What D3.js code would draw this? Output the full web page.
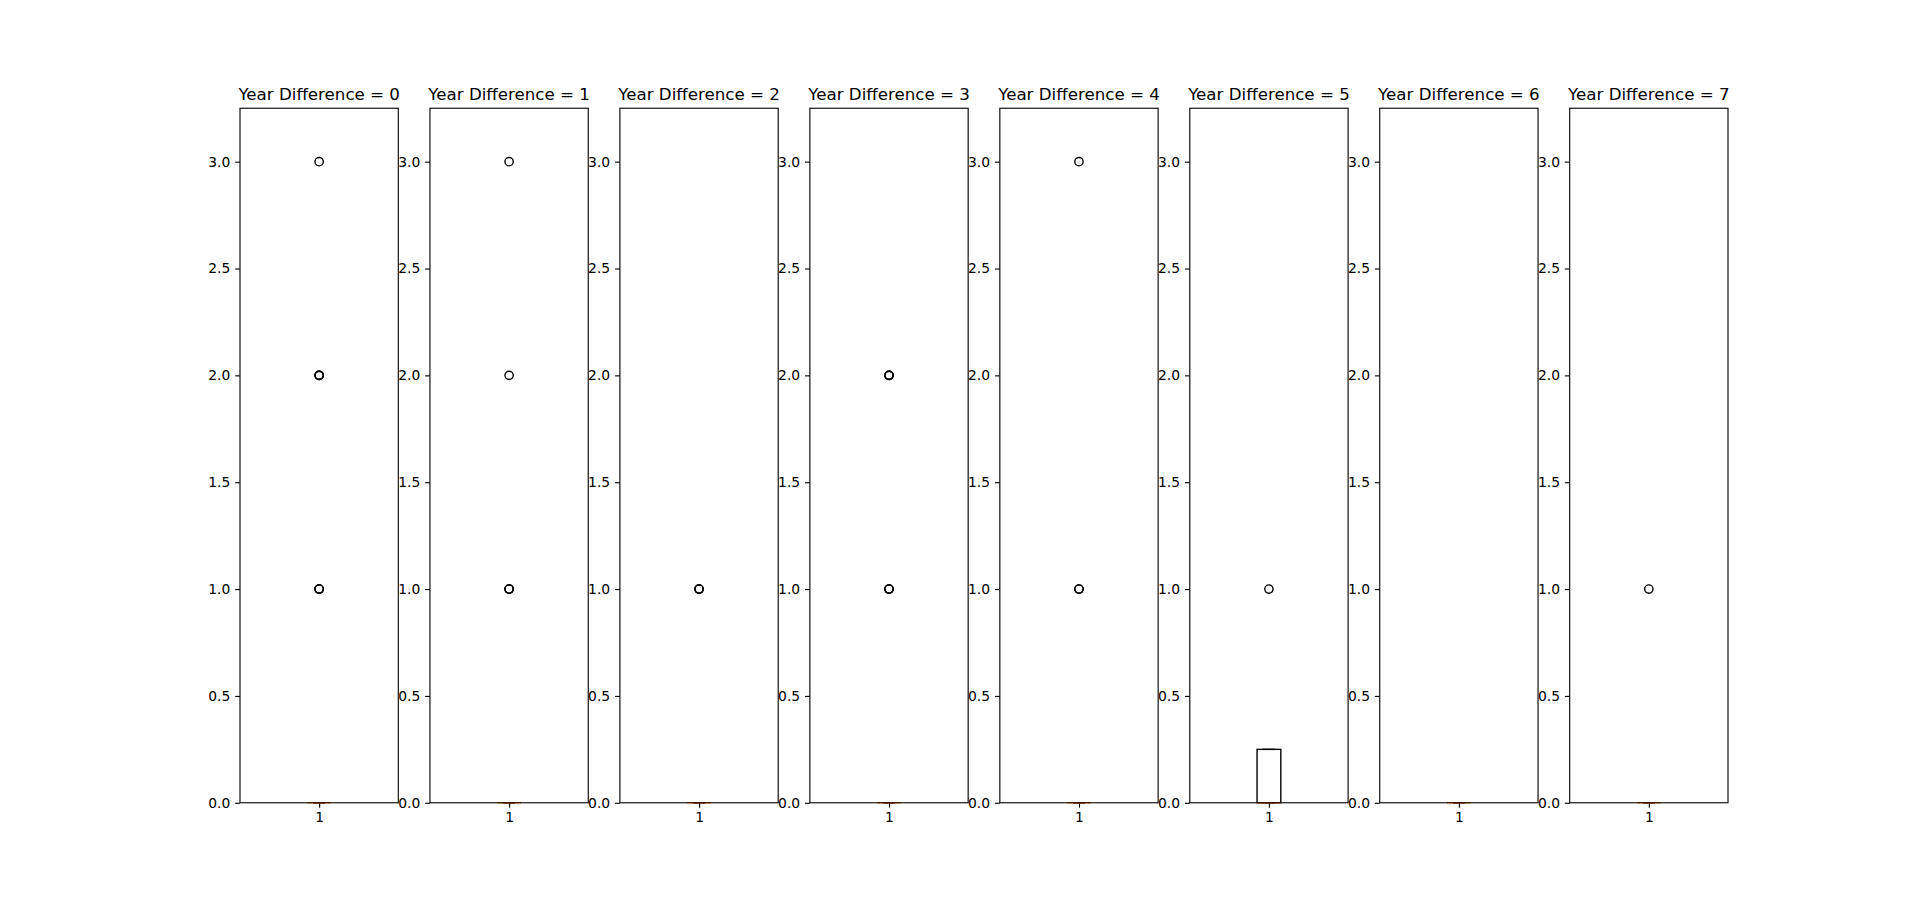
<!DOCTYPE html>
<html>
<head>
<meta charset="utf-8">
<script src="https://cdn.jsdelivr.net/npm/d3@7"></script>
<style>
  html, body { margin: 0; padding: 0; background: #fff; }
  svg { display: block; font-family: "DejaVu Sans", sans-serif; }
</style>
</head>
<body>
<svg id="chart" width="1920" height="902"></svg>
<script>
// ---- data ----
const panelTitles = ["Year Difference = 0", "Year Difference = 1", "Year Difference = 2", "Year Difference = 3",
                     "Year Difference = 4", "Year Difference = 5", "Year Difference = 6", "Year Difference = 7"];
const q1Values     = [0, 0, 0, 0, 0, 0, 0, 0];
const medianValues = [0, 0, 0, 0, 0, 0, 0, 0];
const q3Values     = [0, 0, 0, 0, 0, 0.25, 0, 0];
const whiskerLow   = [0, 0, 0, 0, 0, 0, 0, 0];
const whiskerHigh  = [0, 0, 0, 0, 0, 0.25, 0, 0];
// outlier values (repeated values indicate overlapping points)
const outlierValues = [
  [3, 2, 2, 2, 1, 1, 1],
  [3, 2, 1, 1, 1],
  [1, 1, 1],
  [2, 2, 2, 1, 1, 1],
  [3, 1, 1],
  [1],
  [],
  [1]
];
const yTicks = [0.0, 0.5, 1.0, 1.5, 2.0, 2.5, 3.0];
const xTickLabels = ["1"];

// ---- layout ----
(function () {
const W = 1920, H = 902;
const leftM = 0.125 * W, rightM = 0.9 * W;
const topM = H * (1 - 0.88), bottomM = H * (1 - 0.11);
const n = panelTitles.length;
const pw = (rightM - leftM) / (n + (n - 1) * 0.2);
const gap = pw * 0.2;
const pt = 100 / 72;

const svg = d3.select("#chart");

const y = d3.scaleLinear().domain([0, 3.25]).range([bottomM, topM]);

panelTitles.forEach((title, i) => {
  const x0 = leftM + i * (pw + gap);
  const x = d3.scaleLinear().domain([0.5, 1.5]).range([0, pw]);
  const g = svg.append("g").attr("transform", `translate(${x0},0)`);

  // y axis
  const yAxis = d3.axisLeft(y).tickValues(yTicks).tickFormat(d3.format(".1f"))
    .tickSize(3.5 * pt).tickPadding(3.5 * pt);
  const ya = g.append("g").call(yAxis).attr("font-size", 10 * pt).attr("font-family", "DejaVu Sans");
  ya.select(".domain").remove();
  ya.selectAll(".tick line").attr("stroke", "#000").attr("stroke-width", 0.8 * pt);
  ya.selectAll(".tick text").attr("fill", "#000");

  // x axis
  const xAxis = d3.axisBottom(x).tickValues([1]).tickFormat((d, j) => xTickLabels[j])
    .tickSize(3.5 * pt).tickPadding(3.5 * pt);
  const xa = g.append("g").attr("transform", `translate(0,${bottomM})`).call(xAxis)
    .attr("font-size", 10 * pt).attr("font-family", "DejaVu Sans");
  xa.select(".domain").remove();
  xa.selectAll(".tick line").attr("stroke", "#000").attr("stroke-width", 0.8 * pt);
  xa.selectAll(".tick text").attr("fill", "#000");

  // box
  const bw = 0.15, cw = bw / 2;
  const lw = 1 * pt;
  const bx0 = x(1 - bw / 2), bx1 = x(1 + bw / 2);
  // whiskers
  g.append("line").attr("x1", x(1)).attr("x2", x(1))
    .attr("y1", y(q1Values[i])).attr("y2", y(whiskerLow[i]))
    .attr("stroke", "#000").attr("stroke-width", lw);
  g.append("line").attr("x1", x(1)).attr("x2", x(1))
    .attr("y1", y(q3Values[i])).attr("y2", y(whiskerHigh[i]))
    .attr("stroke", "#000").attr("stroke-width", lw);
  // caps
  [whiskerLow[i], whiskerHigh[i]].forEach(v => {
    g.append("line").attr("x1", x(1 - cw / 2)).attr("x2", x(1 + cw / 2))
      .attr("y1", y(v)).attr("y2", y(v))
      .attr("stroke", "#000").attr("stroke-width", lw);
  });
  g.append("rect").attr("x", bx0).attr("y", y(q3Values[i]))
    .attr("width", bx1 - bx0).attr("height", Math.max(0, y(q1Values[i]) - y(q3Values[i])))
    .attr("fill", "none").attr("stroke", "#000").attr("stroke-width", lw);
  // median
  g.append("line").attr("x1", bx0).attr("x2", bx1)
    .attr("y1", y(medianValues[i])).attr("y2", y(medianValues[i]))
    .attr("stroke", "#ff7f0e").attr("stroke-width", lw);

  // outliers
  g.selectAll("circle.out").data(outlierValues[i]).enter().append("circle")
    .attr("class", "out")
    .attr("cx", x(1)).attr("cy", d => y(d)).attr("r", 3 * pt)
    .attr("fill", "none").attr("stroke", "#000").attr("stroke-width", lw);

  // frame (spines) drawn on top
  g.append("rect").attr("x", 0).attr("y", topM).attr("width", pw).attr("height", bottomM - topM)
    .attr("fill", "none").attr("stroke", "#000").attr("stroke-width", 0.8 * pt);

  // title
  g.append("text").attr("x", pw / 2).attr("y", topM - 6 * pt)
    .attr("text-anchor", "middle").attr("font-size", 12 * pt + "px").attr("fill", "#000")
    .text(title);
});
})();
</script>
</body>
</html>
